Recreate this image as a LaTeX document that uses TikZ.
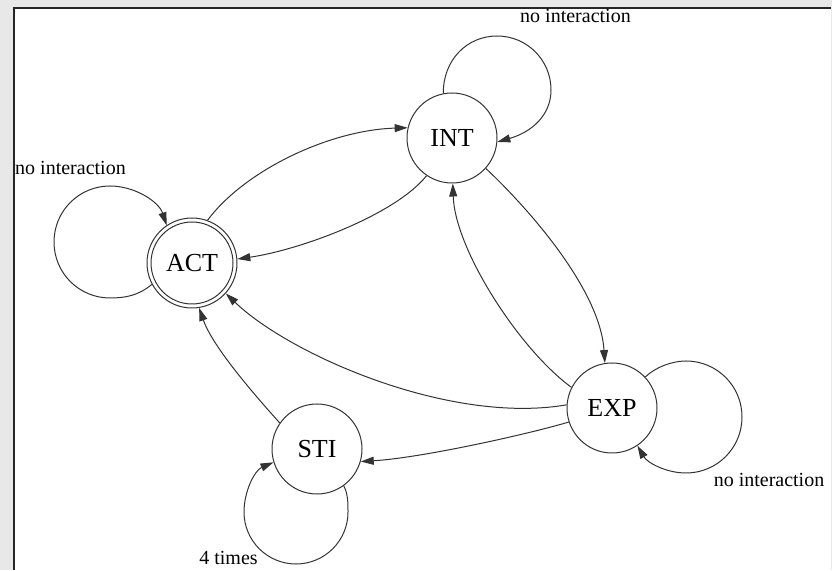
\documentclass[tikz,border=0pt]{standalone}
\usepackage{fontspec}
\setmainfont{Liberation Serif}
\usetikzlibrary{arrows.meta}

\begin{document}
\begin{tikzpicture}[x=1pt,y=1pt,
  state/.style={circle, draw=black!80, line width=1pt, minimum size=90pt,
    inner sep=0pt, font=\fontsize{26}{30}\selectfont},
  edge/.style={draw=black!80, line width=1pt,
    -{Triangle[length=13pt,width=8pt]}},
  lbl/.style={font=\fontsize{20}{24}\selectfont, anchor=base, inner sep=0pt}]

\useasboundingbox (0,0) rectangle (832,570);
\clip (0,0) rectangle (832,570);

% window frame
\fill[black!9] (0,0) rectangle (832,570);
\fill[white] (14,0) rectangle (831,562);
\draw[line width=2pt, black!85] (14.3,0) -- (14.3,562.3) -- (831,562.3);

% states
\node[state] (act) at (192,307) {ACT};
\draw[draw=black!80, line width=1pt] (act.center) circle (41pt);
\node[state] (int) at (452,432) {INT};
\node[state] (exp) at (612,162) {EXP};
\node[state] (sti) at (317,121) {STI};

% transitions between states
\draw[edge] (act.70) .. controls (245,400) and (330,440) .. (int.167);
\draw[edge] (int.236) .. controls (395,355) and (300,320) .. (act.5);
\draw[edge] (int.-42) .. controls (530,360) and (600,280) .. (exp.99);
\draw[edge] (exp.153) .. controls (520,220) and (455,320) .. (int.271);
\draw[edge] (exp.176) .. controls (450,145) and (290,215) .. (act.-42);
\draw[edge] (exp.198) .. controls (525,135) and (420,112) .. (sti.-16);
\draw[edge] (sti.145) .. controls (250,180) and (212,225) .. (act.-81);

% self loops
\draw[edge] (int.101) .. controls (443,510) and (467,534) .. (497,534)
  .. controls (527,534) and (551,510) .. (551,480)
  .. controls (551,455) and (532,438) .. (int.-5);
\draw[edge] (act.208) .. controls (138.7,274.5) and (125.5,272) .. (110,272)
  .. controls (79,272) and (54,297) .. (54,328)
  .. controls (54,359) and (79,384) .. (110,384)
  .. controls (134.6,384) and (158.8,368.5) .. (act.124);
\draw[edge] (exp.43) .. controls (655.4,202.7) and (671.8,209) .. (686,209)
  .. controls (717,209) and (742,184) .. (742,153)
  .. controls (742,122) and (717,97) .. (686,97)
  .. controls (666,97) and (647.2,107.4) .. (exp.-56);
\draw[edge] (sti.-54) .. controls (348,76.3) and (348,66.5) .. (348,58)
  .. controls (348,29.3) and (324.7,6) .. (296,6)
  .. controls (267.3,6) and (244,29.3) .. (244,58)
  .. controls (244,78.9) and (254.8,99.7) .. (sti.197);

% loop labels
\node[lbl] (lint) at (575.5,547) {no interaction};
\node[lbl] (lact) at (70.5,395) {no interaction};
\node[lbl] (lexp) at (769,83) {no interaction};
\node[lbl] (lsti) at (228.5,6) {4 times};
\end{tikzpicture}
\end{document}
